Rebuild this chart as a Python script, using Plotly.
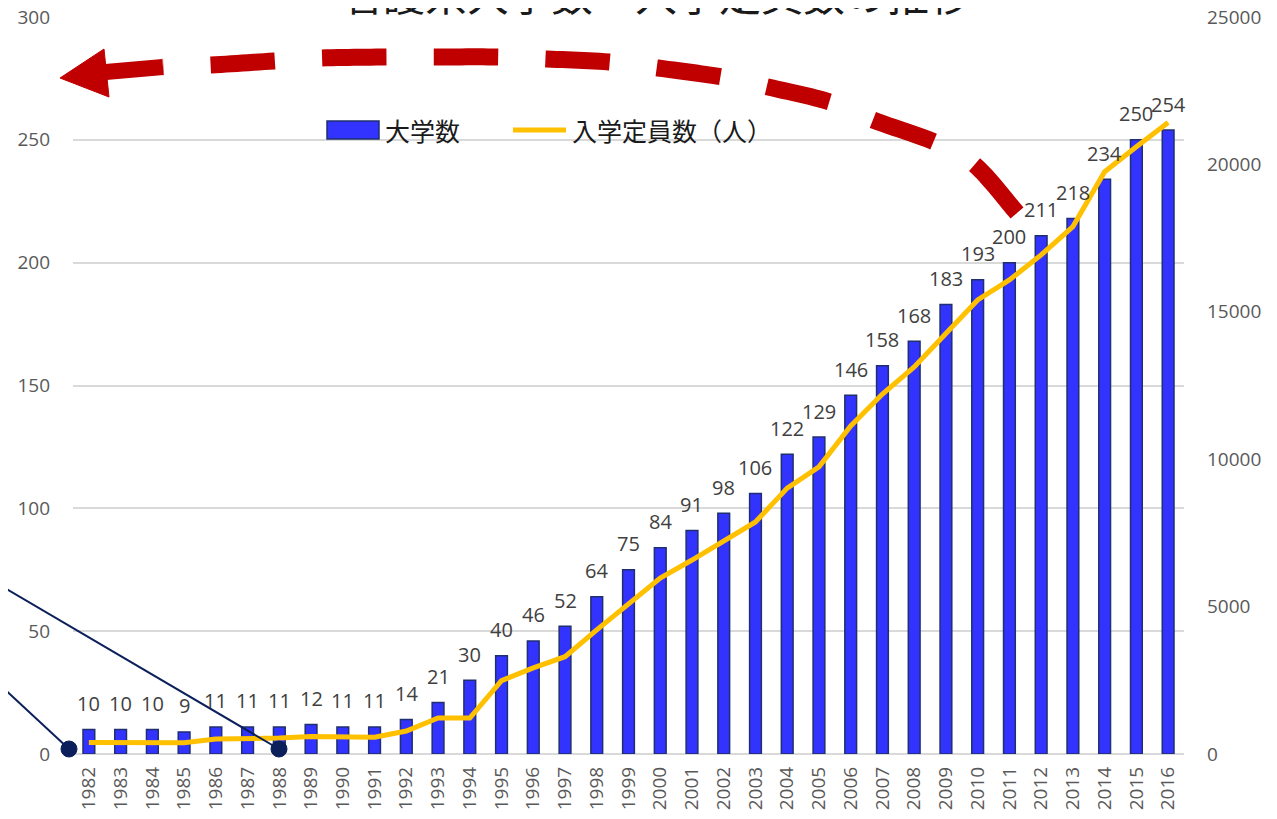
import math
import plotly.graph_objects as go

# ---------------- data ----------------
years = [str(y) for y in range(1982, 2017)]
univ_counts = [10, 10, 10, 9, 11, 11, 11, 12, 11, 11, 14, 21, 30, 40, 46, 52, 64, 75, 84, 91,
               98, 106, 122, 129, 146, 158, 168, 183, 193, 200, 211, 218, 234, 250, 254]
capacity = [390, 390, 390, 380, 510, 510, 540, 590, 570, 570, 780, 1220, 1220, 2490, 2920, 3300,
            4210, 5110, 5970, 6580, 7230, 7870, 9020, 9740, 11130, 12210, 13130, 14280, 15400,
            16080, 16930, 17890, 19750, 20600, 21420]

title_text = "看護系大学数・入学定員数の推移"
bar_name = "大学数"
line_name = "入学定員数（人）"

# ---------------- geometry helpers ----------------
W, H = 1277, 819
OFF = 8  # page body margin of the html page
ML, MT = 73 - OFF, 17 - OFF
PW, PH = 1111, 737
MR = W - ML - PW
MB = H - MT - PH


def px(x):
    return (x - OFF - ML) / PW


def py(y):
    return (MT + PH - (y - OFF)) / PH


JP = "Noto Sans CJK JP"
NUM = "Open Sans"
GRAY = "#595959"

fig = go.Figure()
fig.add_trace(go.Bar(
    x=years, y=univ_counts, name=bar_name, yaxis="y", width=0.37,
    marker=dict(color="#3333FF", line=dict(color="#1F2F6F", width=1.5)),
    showlegend=False,
))
fig.add_trace(go.Scatter(
    x=years, y=capacity, name=line_name, yaxis="y2", mode="lines",
    line=dict(color="#FFC000", width=5), showlegend=False,
))

annotations = []
for i, v in enumerate(univ_counts):
    annotations.append(dict(
        x=i, y=v, xref="x", yref="y", text=str(v), showarrow=False,
        yanchor="middle", yshift=26, font=dict(family=NUM, size=20, color="#404040"),
    ))

# title (cut at top like the reference)
annotations.append(dict(
    x=px(656), y=py(-7), xref="paper", yref="paper", text=title_text, showarrow=False,
    xanchor="center", yanchor="middle", font=dict(family=JP, size=42, color="#1A1A1A"),
))
# legend texts
annotations.append(dict(
    x=px(383), y=py(130), xref="paper", yref="paper", text=bar_name, showarrow=False,
    xanchor="left", yanchor="middle", font=dict(family=JP, size=25, color="#1A1A1A"),
))
annotations.append(dict(
    x=px(570), y=py(130), xref="paper", yref="paper", text=line_name, showarrow=False,
    xanchor="left", yanchor="middle", font=dict(family=JP, size=25, color="#1A1A1A"),
))

shapes = []
# legend symbols
shapes.append(dict(type="rect", xref="paper", yref="paper",
                   x0=px(327), x1=px(379), y0=py(139), y1=py(121),
                   fillcolor="#3333FF", line=dict(color="#1F2F6F", width=1.5)))
shapes.append(dict(type="line", xref="paper", yref="paper",
                   x0=px(513), x1=px(566), y0=py(130), y1=py(130),
                   line=dict(color="#FFC000", width=5)))

# red dashed arc (decoration)
ctrl = [(1017, 213), (975, 165), (937, 143), (873, 120), (830, 102), (768, 87), (722, 77),
        (658, 68), (609, 62), (547, 59), (498, 57), (435, 57), (386, 57), (322, 58),
        (274, 61), (211, 65), (163, 67)]


def catmull(points, n=12):
    out = [points[0]]
    pts = [points[0]] + points + [points[-1]]
    for i in range(1, len(pts) - 2):
        p0, p1, p2, p3 = pts[i - 1], pts[i], pts[i + 1], pts[i + 2]
        for k in range(1, n + 1):
            t = k / n
            t2, t3 = t * t, t * t * t
            x = 0.5 * ((2 * p1[0]) + (-p0[0] + p2[0]) * t + (2 * p0[0] - 5 * p1[0] + 4 * p2[0] - p3[0]) * t2
                       + (-p0[0] + 3 * p1[0] - 3 * p2[0] + p3[0]) * t3)
            y = 0.5 * ((2 * p1[1]) + (-p0[1] + p2[1]) * t + (2 * p0[1] - 5 * p1[1] + 4 * p2[1] - p3[1]) * t2
                       + (-p0[1] + 3 * p1[1] - 3 * p2[1] + p3[1]) * t3)
            out.append((x, y))
    return out


curve = catmull(ctrl)
L = sum(math.dist(curve[i], curve[i + 1]) for i in range(len(curve) - 1))
period = L / 8.0
dash_len = period * 64 / 111
gap_len = period - dash_len
path = "M " + " L ".join(f"{px(x):.5f},{py(y):.5f}" for x, y in curve)
shapes.append(dict(type="path", xref="paper", yref="paper", path=path,
                   line=dict(color="#C00000", width=17, dash=f"{dash_len:.1f}px,{gap_len:.1f}px")))
# arrow shaft + head
shapes.append(dict(type="line", xref="paper", yref="paper",
                   x0=px(163), y0=py(67), x1=px(100), y1=py(72.5),
                   line=dict(color="#C00000", width=16)))
head = f"M {px(60)},{py(78)} L {px(104)},{py(49)} L {px(109)},{py(97)} Z"
shapes.append(dict(type="path", xref="paper", yref="paper", path=head,
                   fillcolor="#C00000", line=dict(color="#C00000", width=1)))

# navy leader lines with dots
NAVY = "#0B1F5A"
shapes.append(dict(type="line", xref="paper", yref="paper",
                   x0=px(-2), y0=py(584), x1=px(279), y1=py(749), line=dict(color=NAVY, width=2)))
shapes.append(dict(type="line", xref="paper", yref="paper",
                   x0=px(-2), y0=py(683), x1=px(69), y1=py(749), line=dict(color=NAVY, width=2)))
for cx in (69, 279):
    shapes.append(dict(type="circle", xref="paper", yref="paper",
                       xsizemode="pixel", ysizemode="pixel",
                       xanchor=px(cx), yanchor=py(749), x0=-8, x1=8, y0=-8, y1=8,
                       fillcolor=NAVY, line=dict(color=NAVY, width=1)))

fig.update_layout(
    width=W, height=H,
    margin=dict(l=ML, r=MR, t=MT, b=MB, pad=0),
    paper_bgcolor="white", plot_bgcolor="white",
    showlegend=False,
    bargap=0.6,
    xaxis=dict(type="category", tickangle=-90, tickfont=dict(family=NUM, size=19, color=GRAY),
               showgrid=False, showline=False, ticks="", automargin=False,
               ticklabelstandoff=8, ticklabeloverflow="allow",
               range=[-0.5, len(years) - 0.5]),
    yaxis=dict(range=[0, 300], dtick=50, tickfont=dict(family=NUM, size=19, color=GRAY),
               showgrid=True, gridcolor="#D9D9D9", gridwidth=1.5, zeroline=True,
               zerolinecolor="#D9D9D9", zerolinewidth=1.5, showline=False, ticks="",
               automargin=False, ticklabelstandoff=22, ticklabeloverflow="allow"),
    yaxis2=dict(range=[0, 25000], dtick=5000, tickformat="d", overlaying="y", side="right",
                tickfont=dict(family=NUM, size=19, color=GRAY), showgrid=False,
                zeroline=False, showline=False, ticks="", automargin=False,
                ticklabelstandoff=22, ticklabeloverflow="allow"),
    annotations=annotations,
    shapes=shapes,
)

fig.write_html("out.html")
